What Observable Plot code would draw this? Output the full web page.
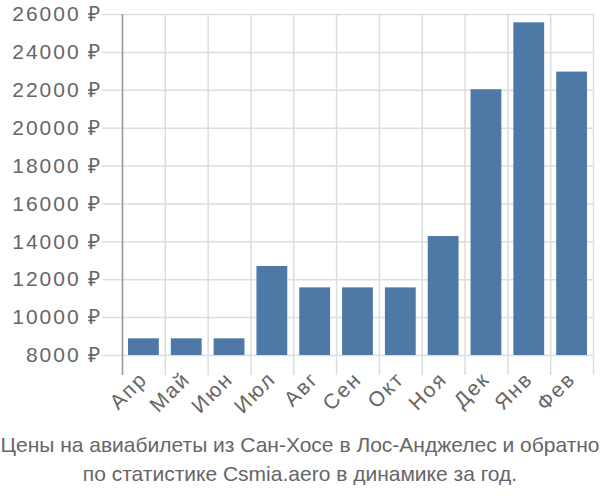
<!DOCTYPE html>
<html>
<head>
<meta charset="utf-8">
<script src="https://cdn.jsdelivr.net/npm/d3@7"></script>
<script src="https://cdn.jsdelivr.net/npm/@observablehq/plot@0.6"></script>
<style>
  body { margin: 0; background: white; }
  #caption { width: 600px; text-align: center; font-family: "Liberation Sans", Arial, sans-serif; font-size: 21px; line-height: 29px; color: #666; }
  #chart svg text { letter-spacing: 2px; }
</style>
</head>
<body>
<div id="chart"></div>
<div id="caption">Цены на авиабилеты из Сан-Хосе в Лос-Анджелес и обратно<br>по статистике Csmia.aero в динамике за год.</div>
<script>
const months = ["Апр", "Май", "Июн", "Июл", "Авг", "Сен", "Окт", "Ноя", "Дек", "Янв", "Фев"];
const prices = [8880, 8880, 8880, 12700, 11570, 11570, 11570, 14280, 22030, 25560, 22960];
const yTicks = [8000, 10000, 12000, 14000, 16000, 18000, 20000, 22000, 24000, 26000];
const baseline = 8000;

const data = months.map((m, i) => ({month: m, i, price: prices[i]}));
const bounds = months.map((_, i) => i).concat([months.length]);
const centers = months.map((_, i) => i + 0.5);

const plot = Plot.plot({
  width: 600,
  height: 430,
  marginLeft: 122,
  marginRight: 7,
  marginTop: 14,
  marginBottom: 75,
  style: {fontFamily: "'Liberation Sans', Arial, sans-serif", fontSize: "21px", color: "#666", background: "white"},
  x: {type: "linear", domain: [0, months.length]},
  y: {domain: [8000, 26000]},
  marks: [
    Plot.gridY(yTicks, {stroke: "#ddd", strokeOpacity: 1, strokeWidth: 1.5}),
    Plot.gridX(bounds, {stroke: "#ddd", strokeOpacity: 1, strokeWidth: 1.5}),
    Plot.axisY(yTicks, {label: null, tickSize: 20, tickPadding: 0, stroke: "#ddd", strokeWidth: 1.5, fill: "#666", tickFormat: d => d + " ₽"}),
    Plot.axisX(bounds, {label: null, tickSize: 20, stroke: "#ddd", strokeWidth: 1.5, tickFormat: () => ""}),
    Plot.axisX(centers, {label: null, tickSize: 0, tickPadding: 20, tickRotate: -45, fill: "#666", tickFormat: d => months[Math.floor(d)]}),
    Plot.rectY(data, {x1: "i", x2: d => d.i + 1, y1: baseline, y2: "price", fill: "#4e79a7", insetLeft: 6, insetRight: 6}),
    Plot.ruleX([0], {stroke: "#999", strokeWidth: 1.5}),
    Plot.axisX([0], {label: null, tickSize: 20, stroke: "#999", strokeWidth: 1.5, tickFormat: () => ""})
  ]
});
document.getElementById("chart").appendChild(plot);
</script>
</body>
</html>
